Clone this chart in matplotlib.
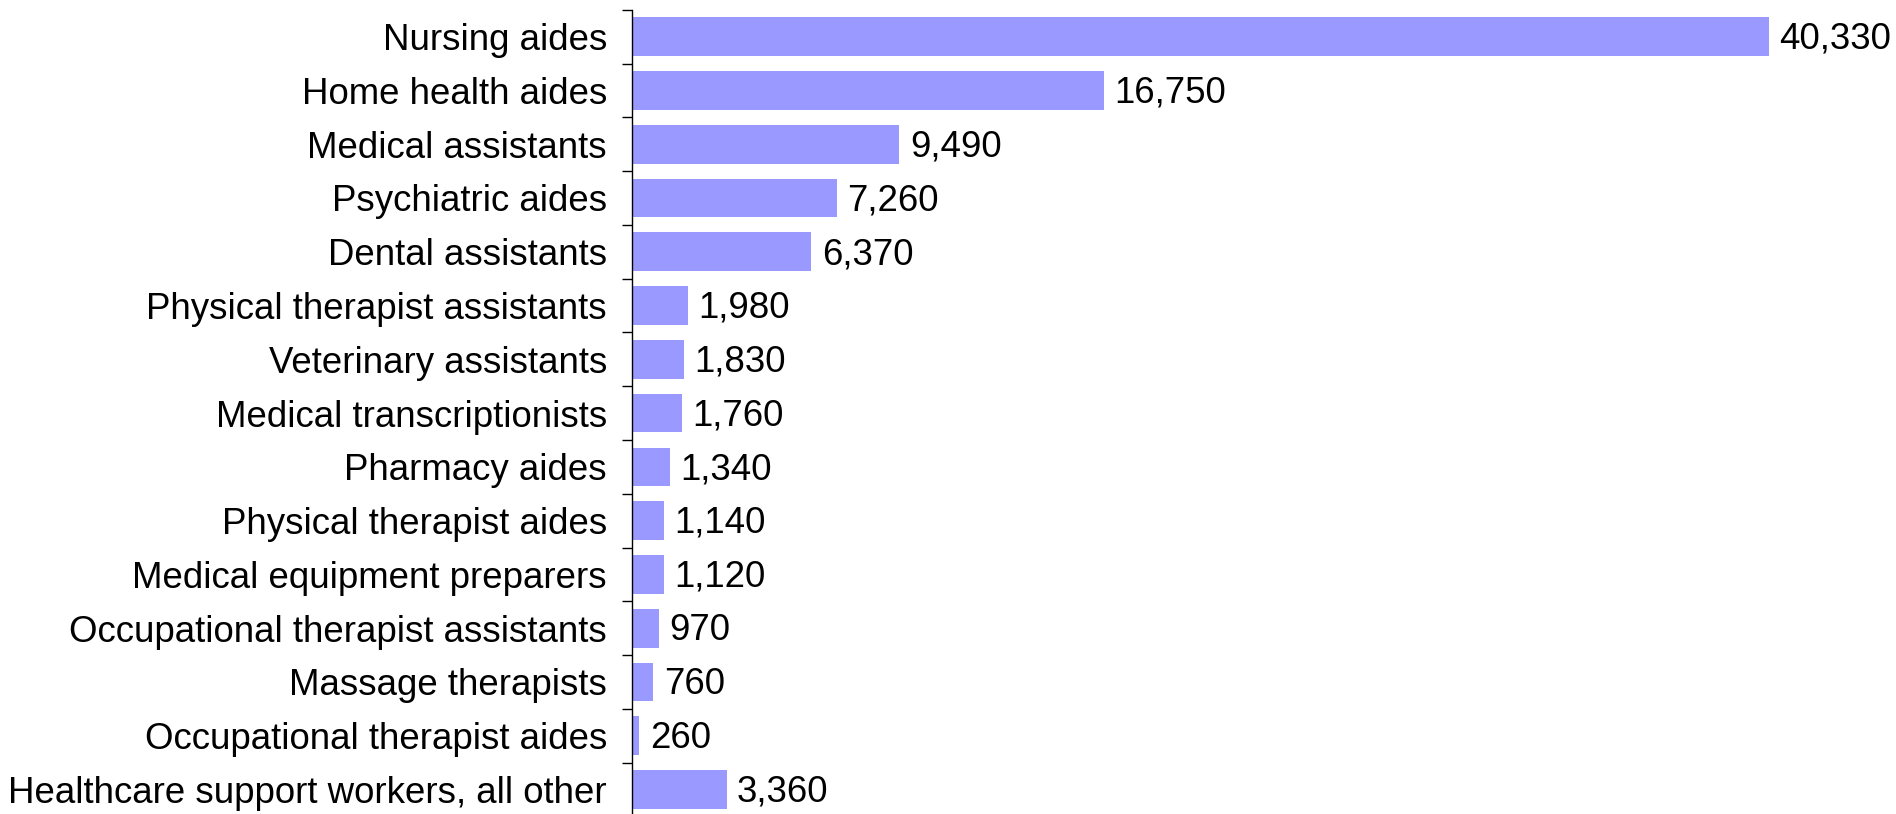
import matplotlib.pyplot as plt
import numpy as np

occupations = ['Nursing aides', 'Home health aides', 'Medical assistants',
               'Psychiatric aides', 'Dental assistants',
               'Physical therapist assistants', 'Veterinary assistants',
               'Medical transcriptionists', 'Pharmacy aides',
               'Physical therapist aides', 'Medical equipment preparers',
               'Occupational therapist assistants', 'Massage therapists',
               'Occupational therapist aides',
               'Healthcare support workers, all other']
workers = [40330, 16750, 9490, 7260, 6370, 1980, 1830, 1760, 1340, 1140,
           1120, 970, 760, 260, 3360]

plt.rcParams['font.family'] = ['Liberation Sans', 'DejaVu Sans']

fig = plt.figure(figsize=(18.96, 8.14), dpi=100)
ax = fig.add_axes([0.3333, -0.003, 0.6667, 0.991])

y = np.arange(len(occupations))
ax.barh(y, workers, height=0.72, color='#9999FF')
ax.set_ylim(len(occupations) - 0.5, -0.5)
ax.set_xlim(0, 44850)

# value labels just right of each bar
for yi, v in zip(y, workers):
    ax.annotate(f'{v:,}', (v, yi), xytext=(7.5, -2), textcoords='offset points',
                ha='left', va='center', fontsize=26.4)

ax.set_yticks(y)
ax.set_yticklabels(occupations, fontsize=26.4)
ax.tick_params(axis='y', which='major', length=0, pad=18)
ax.set_yticks(np.arange(len(occupations) + 1) - 0.5, minor=True)
ax.tick_params(axis='y', which='minor', length=7, width=1, color='black',
               direction='out')
ax.set_xticks([])
for s in ['top', 'right', 'bottom']:
    ax.spines[s].set_visible(False)
ax.spines['left'].set_linewidth(1)

fig.savefig('out.png', dpi=100)
